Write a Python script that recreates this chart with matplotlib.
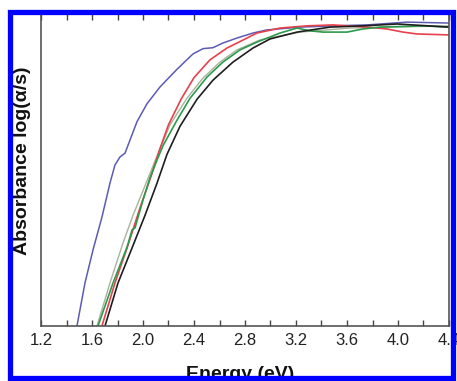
import numpy as np
import matplotlib
matplotlib.use('Agg')
import matplotlib.pyplot as plt
from matplotlib.patches import Rectangle
from matplotlib.ticker import MultipleLocator

plt.rcParams['font.family'] = ['Liberation Sans', 'DejaVu Sans']

# спектры поглощения (энергия, эВ / отн. ед.)
blue_x = [1.482, 1.545, 1.608, 1.678, 1.741, 1.780, 1.820, 1.859, 1.898, 1.953, 2.031, 2.133,
          2.267, 2.392, 2.471, 2.549, 2.627, 2.737, 2.863, 2.973, 3.231, 3.490, 3.757, 4.071, 4.4]
blue_y = [0.0, 0.138, 0.244, 0.349, 0.458, 0.516, 0.542, 0.554, 0.596, 0.655, 0.712, 0.766,
          0.823, 0.872, 0.889, 0.892, 0.907, 0.923, 0.939, 0.949, 0.958, 0.962, 0.965, 0.974, 0.971]

red_x = [1.678, 1.780, 1.875, 1.976, 2.063, 2.130, 2.200, 2.300, 2.400, 2.525, 2.659, 2.816,
         2.894, 3.075, 3.286, 3.490, 3.757, 3.914, 4.039, 4.149, 4.4]
red_y = [0.0, 0.138, 0.250, 0.378, 0.480, 0.565, 0.645, 0.728, 0.796, 0.853, 0.891, 0.923,
         0.939, 0.955, 0.962, 0.965, 0.958, 0.952, 0.942, 0.936, 0.933]

gray_x = [1.639, 1.741, 1.843, 1.922, 2.031, 2.110, 2.212, 2.345, 2.471, 2.604, 2.737, 2.918,
          3.231, 3.62, 4.4]
gray_y = [0.0, 0.138, 0.266, 0.355, 0.465, 0.545, 0.645, 0.730, 0.795, 0.846, 0.885, 0.917,
          0.942, 0.955, 0.962]

green_x = [1.647, 1.765, 1.875, 1.914, 1.937, 2.0, 2.055, 2.110, 2.157, 2.267, 2.369, 2.502,
           2.627, 2.761, 2.894, 3.075, 3.208, 3.31, 3.412, 3.506, 3.60, 3.725, 3.859, 4.196, 4.4]
green_y = [0.0, 0.138, 0.253, 0.308, 0.314, 0.404, 0.475, 0.532, 0.578, 0.660, 0.730, 0.798,
           0.846, 0.885, 0.910, 0.939, 0.955, 0.946, 0.942, 0.942, 0.942, 0.952, 0.958, 0.962, 0.958]

black_x = [1.702, 1.804, 1.914, 2.016, 2.110, 2.188, 2.290, 2.424, 2.549, 2.706, 2.863, 2.996,
           3.208, 3.467, 3.725, 3.992, 4.4]
black_y = [0.0, 0.138, 0.250, 0.355, 0.458, 0.550, 0.640, 0.727, 0.788, 0.846, 0.891, 0.920,
           0.942, 0.958, 0.962, 0.968, 0.958]

fig = plt.figure(figsize=(4.57, 3.81), dpi=100)
ax = fig.add_axes([41 / 457, 1 - 326 / 381, 408 / 457, 312 / 381])

ax.plot(gray_x, gray_y, color='#a9b39b', lw=1.0)
ax.plot(blue_x, blue_y, color='#5b5bb5', lw=1.1)
ax.plot(red_x, red_y, color='#e8404c', lw=1.2)
ax.plot(green_x, green_y, color='#2c9a4c', lw=1.2)
ax.plot(black_x, black_y, color='#1e1e1e', lw=1.2)

ax.set_xlim(1.2, 4.4)
ax.set_ylim(0, 1)
ax.xaxis.set_minor_locator(MultipleLocator(0.2))
ax.set_xticks(np.arange(1.2, 4.41, 0.4))
ax.set_xticklabels(['%.1f' % v for v in np.arange(1.2, 4.41, 0.4)])
ax.set_yticks([])
ax.tick_params(axis='x', which='both', direction='in', top=True, length=4, width=1,
               color='#444444', labelsize=12, pad=5, labelcolor='#222222')
for s in ax.spines.values():
    s.set_color('#555555')
    s.set_linewidth(1.2)

fig.text(240 / 457, 1 - 379 / 381, 'Energy (eV)', fontsize=14, fontweight='bold',
         ha='center', va='baseline', color='#111111')
fig.text(27 / 457, 1 - 161 / 381, 'Absorbance log(α/s)', fontsize=14, fontweight='bold',
         rotation=90, rotation_mode='anchor', ha='center', va='baseline', color='#111111')

# синяя рамка
fig.add_artist(Rectangle((9.5 / 457, 1 - 378 / 381), 443 / 457, 366.5 / 381,
                         transform=fig.transFigure, fill=False, ec='#0000ff', lw=3.8, zorder=10))

fig.savefig('out.png', dpi=100)
